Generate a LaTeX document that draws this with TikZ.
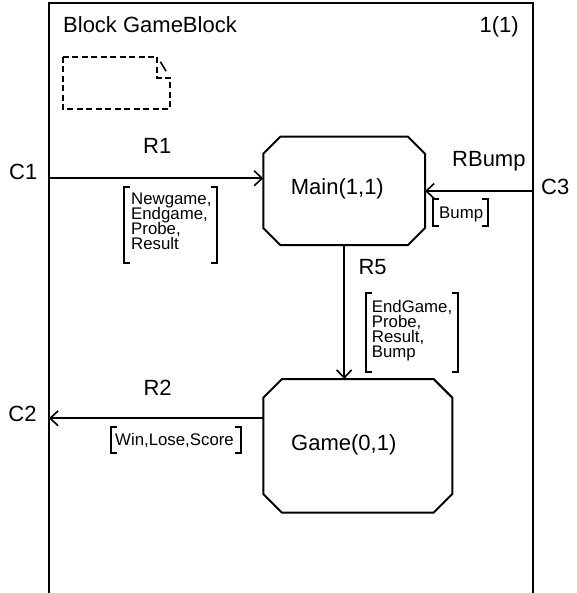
\documentclass[tikz,border=0pt]{standalone}
\usepackage{fontspec}
\setmainfont{Liberation Sans}
\usetikzlibrary{arrows.meta}
\tikzset{
  lbl/.style={inner sep=0pt, anchor=base west, font=\fontsize{22}{26}\selectfont},
  sigtext/.style={inner sep=0pt, anchor=base west, font=\fontsize{16.8}{15}\selectfont},
  boxarea/.style={draw=none, inner sep=0pt, outer sep=0pt},
  conn/.style={line width=2pt, -{Straight Barb[length=8pt,width=15pt,line width=1.6pt]}},
  frameline/.style={line width=2pt, line join=miter},
  brk/.style={line width=1.8pt},
  notestyle/.style={line width=1.8pt, dash pattern=on 6pt off 3.5pt},
  octline/.style={line width=2pt, line join=miter}
}
\newcommand\octagonbox[2]{%
  \draw[octline] ([xshift=#2]#1.north west) -- ([xshift=-#2]#1.north east)
    -- ([yshift=-#2]#1.north east) -- ([yshift=#2]#1.south east)
    -- ([xshift=-#2]#1.south east) -- ([xshift=#2]#1.south west)
    -- ([yshift=#2]#1.south west) -- ([yshift=-#2]#1.north west) -- cycle;}
\newcommand\sigbrk[4]{%
  \draw[brk] ({#1+6},#2) -- (#1,#2) -- (#1,#4) -- ({#1+6},#4);
  \draw[brk] ({#3-6},#2) -- (#3,#2) -- (#3,#4) -- ({#3-6},#4);}
\newcommand\siglines[1]{\vtop{\baselineskip=15pt\lineskiplimit=-\maxdimen\lineskip=0pt #1}}
\begin{document}
\begin{tikzpicture}[x=1pt,y=-1pt]
\useasboundingbox (0,0) rectangle (576,593);
% frame
\draw[frameline] (49,593) -- (49,3) -- (532.5,3) -- (532.5,593);
\node[lbl] (title) at (63,33) {Block GameBlock};
\node[lbl, anchor=base east] (page) at (519,33) {1(1)};
% dashed note
\draw[notestyle] (62.7,56.7) -- (157.3,56.7) -- (157.3,77.7) -- (170,77.7) -- (170,109.3) -- (62.7,109.3) -- cycle;
\draw[line width=1.6pt, dash pattern=on 0pt off 6pt on 11pt off 30pt] (157.3,56.7) -- (170,77.7);
% process boxes
\node[boxarea, minimum width=161.7pt, minimum height=108.3pt] (main) at (344.15,190.85) {};
\octagonbox{main}{17pt}
\node[boxarea, minimum width=189pt, minimum height=133.7pt] (game) at (357.8,445.85) {};
\octagonbox{game}{18.7pt}
\node[lbl] (maint) at (290.7,194.3) {Main(1,1)};
\node[lbl] (gamet) at (291,450) {Game(0,1)};
% connection points
\coordinate (c1p) at (49,178.3);
\coordinate (c3p) at (532.5,191);
\coordinate (c2p) at (49,418.3);
% channels
\draw[conn] (c1p) -- (main.west |- c1p);
\draw[conn] (c3p) -- (main.east |- c3p);
\draw[conn] (main.south) -- (main.south |- game.north);
\draw[conn] (game.west |- c2p) -- (c2p);
% labels
\node[lbl] (c1) at (9,180) {C1};
\node[lbl] (r1) at (143,154) {R1};
\node[lbl] (rbump) at (452,166.7) {RBump};
\node[lbl] (c3) at (541,195) {C3};
\node[lbl] (r5) at (358.3,274) {R5};
\node[lbl] (r2) at (143.3,395) {R2};
\node[lbl] (c2) at (8.3,421.7) {C2};
% signal lists
\node[sigtext] (s1) at (131,205) {\siglines{\hbox{Newgame,}\hbox{Endgame,}\hbox{Probe,}\hbox{Result}}};
\sigbrk{124.3}{186.7}{216.7}{263.3}
\node[sigtext] (s3) at (439,218.3) {Bump};
\sigbrk{433.3}{199}{488}{226}
\node[sigtext] (s5) at (371.7,312) {\siglines{\hbox{EndGame,}\hbox{Probe,}\hbox{Result,}\hbox{Bump}}};
\sigbrk{366}{292.7}{458.3}{371.7}
\node[sigtext] (s2) at (115,445) {Win,Lose,Score};
\sigbrk{111}{427.3}{240.7}{453.3}
\end{tikzpicture}
\end{document}
